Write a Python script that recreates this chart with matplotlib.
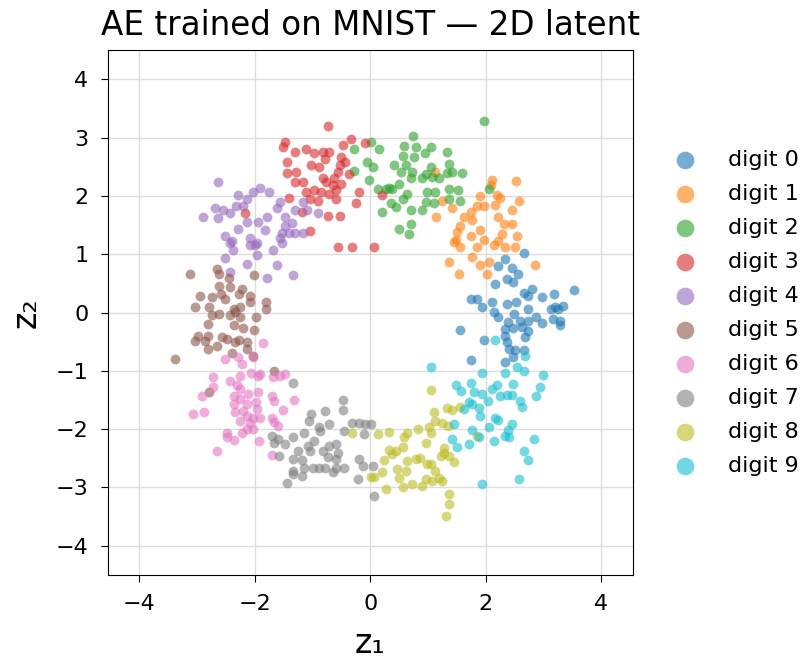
import matplotlib
matplotlib.use("Agg")
import matplotlib.pyplot as plt
import numpy as np

labels = [f"digit {i}" for i in range(10)]

d0_x = [2.67,2.33,2.45,2.21,2.56,2.37,2.48,2.17,3.53,2.80,2.66,2.97,3.19,2.74,1.75,1.85,2.11,2.37,2.52,1.94,2.74,3.20,3.34,3.14,3.26,2.14,2.22,2.50,2.88,3.17,3.29,2.38,2.60,2.74,2.98,3.29,1.56,2.34,2.48,2.63,2.74,2.68,1.97,2.34,2.37,2.40,2.51,2.66,2.48,1.74,2.34]
d0_y = [1.02,0.92,0.77,0.79,0.66,0.58,0.52,0.49,0.39,0.41,0.33,0.27,0.31,0.29,0.24,0.24,0.18,0.15,0.18,0.09,0.06,0.09,0.12,0.06,0.06,0.01,-0.07,-0.02,-0.07,-0.11,-0.14,-0.17,-0.14,-0.14,-0.18,-0.21,-0.30,-0.28,-0.26,-0.24,-0.31,-0.42,-0.47,-0.40,-0.51,-0.62,-0.65,-0.65,-0.77,-0.81,-0.85]

d1_x = [2.11,2.52,1.91,2.19,2.25,2.57,1.25,1.41,1.85,1.98,2.17,1.14,1.62,1.74,2.45,2.22,1.76,1.56,2.31,2.45,1.91,1.51,1.74,2.28,2.54,1.48,1.97,2.22,1.56,1.85,2.14,2.34,2.51,1.12,1.45,1.76,1.36,1.91,2.06,2.86,1.53,2.02,2.10]
d1_y = [2.27,2.26,1.99,2.01,1.97,1.92,1.92,1.80,1.82,1.82,1.84,1.64,1.64,1.72,1.75,1.64,1.58,1.49,1.52,1.52,1.41,1.38,1.32,1.34,1.32,1.24,1.24,1.23,1.12,1.12,1.15,1.12,1.12,2.41,1.21,0.96,0.86,0.81,0.86,0.81,0.66,0.66,2.18]

d2_x = [0.74,0.01,-0.28,0.16,0.59,0.79,0.95,1.05,0.56,0.76,-0.05,0.04,0.41,0.62,0.53,0.73,-0.28,0.96,1.07,0.70,0.90,-0.03,0.50,0.33,0.13,0.27,0.38,0.64,0.99,1.13,0.56,0.36,0.44,0.96,0.70,0.90,0.21,0.50,0.70,0.67,1.97,1.33,1.36,1.42,1.59,1.05,1.19,1.33,1.36,1.52,2.05,1.56,1.10,1.36]
d2_y = [3.02,2.93,2.80,2.80,2.85,2.84,2.74,2.83,2.68,2.67,2.58,2.50,2.53,2.53,2.41,2.41,2.42,2.38,2.32,2.30,2.30,2.28,2.21,2.13,2.11,2.11,2.11,2.04,2.07,2.07,1.94,1.87,1.81,1.90,1.75,1.75,1.72,1.44,1.52,1.34,3.28,2.75,2.54,2.41,2.39,2.50,2.30,2.39,2.11,2.10,2.11,1.91,1.87,1.95]

d3_x = [-0.74,-0.34,-0.48,-0.09,-1.31,-1.11,-0.97,-0.82,-0.71,-0.79,-0.51,-0.43,-1.02,-0.88,-0.53,-1.28,-0.56,-0.36,-1.31,-1.17,-0.82,-0.76,-0.62,-0.51,-0.65,-1.11,-0.97,-0.85,-0.71,-0.59,-0.19,-1.05,-0.91,-0.59,-0.25,-1.19,-0.74,-0.53,-1.05,-0.56,-0.31,0.07,0.21,-1.47,-1.52,-1.45,-1.45,-1.41,-2.17]
d3_y = [3.20,2.98,2.87,2.90,2.75,2.81,2.73,2.75,2.75,2.64,2.67,2.58,2.53,2.50,2.53,2.41,2.41,2.38,2.24,2.24,2.30,2.24,2.30,2.21,2.18,2.07,2.10,2.07,2.04,2.10,2.07,1.95,1.92,1.95,1.87,1.72,1.65,1.65,1.40,1.13,1.13,1.12,2.01,2.92,2.84,2.58,2.39,1.96,1.70]

d4_x = [-2.64,-2.29,-1.91,-1.76,-2.03,-2.14,-2.69,-2.55,-2.43,-2.90,-2.64,-2.33,-2.21,-2.14,-2.29,-2.52,-2.40,-2.09,-1.95,-1.79,-1.83,-1.62,-1.57,-1.47,-1.48,-1.53,-1.40,-1.31,-1.31,-1.57,-1.97,-2.43,-2.38,-2.52,-2.14,-1.97,-2.00,-1.79,-1.62,-1.69,-1.53,-1.34,-2.43,-2.09,-1.17,-0.91,-1.09,-1.36,-1.17]
d4_y = [2.23,2.01,2.13,2.06,2.06,1.94,1.80,1.75,1.70,1.63,1.62,1.82,1.82,1.55,1.43,1.32,1.22,1.27,1.55,1.63,1.41,1.79,1.89,1.63,1.49,1.37,1.36,1.75,1.36,1.27,1.19,1.20,1.07,0.93,0.84,0.98,1.15,0.60,0.82,1.07,1.19,0.64,0.69,1.15,1.89,1.70,1.75,1.53,1.36]

d5_x = [-3.13,-2.66,-2.63,-2.44,-2.02,-2.63,-2.43,-2.59,-2.23,-2.27,-2.95,-2.75,-2.52,-2.09,-2.09,-1.80,-3.03,-2.79,-1.80,-2.37,-2.26,-2.34,-2.75,-2.63,-2.43,-2.26,-1.98,-2.81,-2.37,-2.21,-2.02,-2.98,-2.81,-2.57,-2.49,-3.03,-2.86,-2.27,-2.14,-2.66,-2.81,-2.34,-2.14,-3.38,-2.40,-2.03,-1.66,-2.79]
d5_y = [0.66,0.75,0.66,0.60,0.65,0.46,0.43,0.32,0.41,0.32,0.29,0.26,0.24,0.29,0.18,0.18,0.10,0.09,0.06,0.06,0.09,0.01,-0.05,-0.02,-0.05,-0.08,-0.07,-0.19,-0.22,-0.26,-0.30,-0.40,-0.40,-0.42,-0.45,-0.48,-0.48,-0.47,-0.51,-0.57,-0.62,-0.51,-0.62,-0.80,-0.70,-0.74,-1.00,-1.37]

d6_x = [-2.72,-2.43,-2.26,-2.06,-1.94,-1.68,-1.57,-2.73,-2.31,-2.26,-2.92,-2.37,-2.12,-1.94,-1.71,-1.66,-1.33,-2.26,-1.98,-2.36,-2.14,-2.34,-2.20,-1.97,-1.52,-3.07,-2.89,-2.14,-2.03,-1.91,-1.71,-2.26,-1.66,-2.09,-1.60,-2.14,-2.03,-2.23,-2.49,-2.48,-2.37,-1.93,-1.71,-2.65,-1.86,-2.52,-2.29,-2.23,-2.03,-1.48,-1.91]
d6_y = [-1.11,-1.17,-1.08,-1.03,-1.08,-1.11,-1.08,-1.28,-1.24,-1.31,-1.43,-1.43,-1.40,-1.37,-1.43,-1.51,-1.50,-1.48,-1.54,-1.57,-1.57,-1.71,-1.68,-1.65,-1.67,-1.74,-1.70,-1.77,-1.80,-1.80,-1.80,-1.86,-1.87,-1.90,-1.94,-2.00,-2.00,-2.07,-2.06,-2.14,-2.19,-2.21,-2.44,-2.38,-0.53,-0.80,-0.77,-0.89,-0.76,-1.05,-1.05]

d7_x = [-1.34,-0.47,-0.48,-0.79,-1.02,-1.06,-0.71,-0.88,-1.14,-0.87,-0.45,-0.31,-0.19,-0.09,0.01,-0.10,-1.34,-0.97,-1.08,-0.71,-0.59,-1.25,-1.05,-0.82,-0.56,-1.34,-1.19,-0.74,-0.59,-0.19,-0.88,-0.99,-1.14,-0.79,-0.59,-0.45,-0.13,0.04,-1.34,-1.19,-0.65,-0.22,0.07,-1.71,-1.60,-1.47,-1.66,-1.58,-1.34,-1.44]
d7_y = [-1.21,-1.50,-1.67,-1.68,-1.74,-1.86,-1.91,-1.96,-2.06,-2.03,-2.03,-1.90,-1.90,-1.91,-1.91,-2.08,-2.14,-2.20,-2.29,-2.29,-2.25,-2.37,-2.37,-2.37,-2.40,-2.51,-2.53,-2.47,-2.51,-2.51,-2.66,-2.66,-2.66,-2.66,-2.66,-2.66,-2.63,-2.63,-2.77,-2.80,-2.74,-2.86,-3.14,-2.11,-2.17,-2.26,-2.23,-2.46,-2.71,-2.92]

d8_x = [1.05,1.10,1.33,1.41,1.56,1.12,1.25,1.35,1.05,1.28,1.28,1.22,1.36,1.45,1.85,1.05,1.13,1.19,1.07,1.25,1.37,1.37,1.31,-0.31,0.13,0.32,0.64,0.82,1.02,0.59,0.96,0.33,0.44,0.56,0.38,0.24,0.64,0.79,0.87,0.99,0.47,0.62,0.21,0.07,0.01,0.50,0.96,0.73,0.56,0.27,0.90]
d8_y = [-1.33,-1.70,-1.63,-1.67,-1.62,-1.86,-1.90,-1.94,-2.07,-2.32,-2.40,-2.46,-2.46,-2.57,-2.11,-2.59,-2.71,-2.83,-2.89,-2.89,-3.12,-3.28,-3.49,-2.07,-2.08,-2.04,-2.07,-2.00,-1.97,-2.14,-2.23,-2.36,-2.37,-2.31,-2.42,-2.53,-2.54,-2.51,-2.49,-2.59,-2.69,-2.71,-2.74,-2.82,-2.82,-2.83,-2.86,-2.94,-2.99,-3.03,-2.97]

d9_x = [2.17,2.68,2.54,2.66,3.00,2.33,1.94,1.05,1.48,1.74,2.48,2.94,1.58,1.79,1.94,2.11,2.19,2.25,2.37,2.45,2.88,2.04,1.71,1.76,2.60,1.62,1.88,2.63,1.91,2.17,2.22,1.45,2.45,2.05,1.76,2.38,2.33,2.40,1.88,1.41,2.14,1.71,1.51,2.84,2.66,2.73,2.58,1.93]
d9_y = [-0.47,-0.74,-0.93,-1.00,-1.07,-1.03,-1.03,-0.93,-1.25,-1.20,-1.23,-1.27,-1.35,-1.37,-1.39,-1.31,-1.25,-1.43,-1.41,-1.41,-1.43,-1.51,-1.54,-1.57,-1.51,-1.65,-1.63,-1.62,-1.77,-1.80,-1.84,-1.91,-1.91,-1.96,-2.02,-2.02,-2.11,-2.14,-2.13,-2.17,-2.20,-2.25,-2.30,-2.17,-2.37,-2.53,-2.86,-2.94]

xs = [d0_x, d1_x, d2_x, d3_x, d4_x, d5_x, d6_x, d7_x, d8_x, d9_x]
ys = [d0_y, d1_y, d2_y, d3_y, d4_y, d5_y, d6_y, d7_y, d8_y, d9_y]
colors = plt.get_cmap("tab10").colors

fig = plt.figure(figsize=(8.04, 6.59), dpi=100)
ax = fig.add_axes([0.134, 0.1275, 0.653, 0.7965])
for i in range(10):
    ax.scatter(xs[i], ys[i], s=50, color=colors[i], alpha=0.6, linewidths=0, label=labels[i])

ax.set_xlim(-4.55, 4.55)
ax.set_ylim(-4.5, 4.5)
ax.set_xticks([-4, -2, 0, 2, 4])
ax.set_yticks([-4, -3, -2, -1, 0, 1, 2, 3, 4])
ax.tick_params(labelsize=16, length=5, pad=9)
ax.grid(True, color="#dddddd", linewidth=1)
ax.set_axisbelow(True)
ax.set_title("AE trained on MNIST — 2D latent", fontsize=23.5, pad=11)
ax.set_xlabel("z₁", fontsize=24, labelpad=9)
ax.set_ylabel("z₂", fontsize=24, labelpad=9)
leg = ax.legend(loc="center left", bbox_to_anchor=(1.02, 0.5), frameon=False,
                fontsize=16, markerscale=1.8, labelspacing=0.63, handletextpad=0.9)
fig.savefig("out.png", dpi=100)
